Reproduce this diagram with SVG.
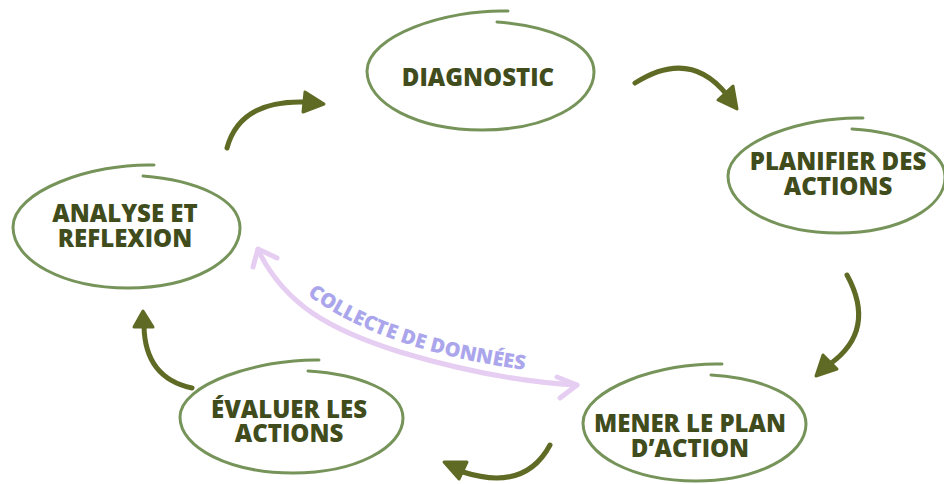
<svg xmlns="http://www.w3.org/2000/svg" width="944" height="484" viewBox="0 0 944 484">
<style>
.ring{fill:none;stroke:#769459;stroke-width:3;stroke-linecap:round}
.lbl{font-family:"Open Sans","Liberation Sans",sans-serif;font-weight:800;font-size:24px;fill:#414c1c;text-anchor:middle}
.arr{fill:none;stroke:#5f6b24;stroke-width:5;stroke-linecap:round}
.head{fill:#5f6b24;stroke:#5f6b24;stroke-width:3;stroke-linejoin:round}
.data{fill:none;stroke:#e6cdf2;stroke-width:5;stroke-linecap:round;stroke-linejoin:round}
.datat{font-family:"Open Sans","Liberation Sans",sans-serif;font-weight:800;font-size:20px;fill:#aba6ec}
</style>
<defs>
<path id="tp" d="M300,289 Q376,351 534,371"/>
</defs>
<rect width="944" height="484" fill="#ffffff"/>
<g id="connectors">
<path class="arr" d="M227,148 Q240,100 305,102"/>
<polygon class="head" points="305,92 324,104 303,112"/>
<path class="arr" d="M635,83 Q690,48 727,95"/>
<polygon class="head" points="718,100 733,86 737,109"/>
<path class="arr" d="M847,275 Q877,330 830,364"/>
<polygon class="head" points="823,355 837,369 816,376"/>
<path class="arr" d="M550,445 Q525,492 463,472"/>
<polygon class="head" points="444,462 467,462 459,479"/>
<path class="arr" d="M192,388 Q145,378 144,326"/>
<polygon class="head" points="143,311 134,327 153,327"/>
<g id="data-arrow">
<path class="data" d="M258,250 C285,305 330,330 400,352 C460,370 520,382 577,385"/>
<path class="data" d="M253,267 L258,249 L277,258"/>
<path class="data" d="M557,377 L577,385 L560,398"/>
<text class="datat"><textPath href="#tp" startOffset="50%" text-anchor="middle">COLLECTE DE DONNÉES</textPath></text>
</g>
</g>
<g id="diagnostic">
<path class="ring" d="M508,11 C446,9 367,36 367,71 C367,104 418,130 482,130 C546,130 594,104 594,72 C594,43 548,26 497,22"/>
<text class="lbl" x="478" y="86">DIAGNOSTIC</text>
</g>
<g id="planifier">
<path class="ring" d="M863,118 C804,116 728,142 728,176 C728,208 777,233 838,233 C899,233 945,208 945,177 C945,149 901,132 852,129"/>
<text class="lbl" x="838" y="170">PLANIFIER DES</text>
<text class="lbl" x="838" y="195">ACTIONS</text>
</g>
<g id="analyse">
<path class="ring" d="M154,165 C92,163 13,191 13,227 C13,261 64,288 128,288 C192,288 240,261 240,228 C240,198 194,180 143,176"/>
<text class="lbl" x="125" y="222">ANALYSE ET</text>
<text class="lbl" x="125" y="247">REFLEXION</text>
</g>
<g id="evaluer">
<path class="ring" d="M319,360 C258,359 180,384 180,417 C180,448 230,473 293,473 C355,473 403,448 403,418 C403,391 358,374 308,371"/>
<text class="lbl" x="289" y="418">ÉVALUER LES</text>
<text class="lbl" x="289" y="442">ACTIONS</text>
</g>
<g id="mener">
<path class="ring" d="M722,364 C661,362 583,389 583,423 C583,455 633,481 696,481 C758,481 806,455 806,424 C806,396 761,378 711,375"/>
<text class="lbl" x="690" y="432">MENER LE PLAN</text>
<text class="lbl" x="690" y="457">D’ACTION</text>
</g>
</svg>
